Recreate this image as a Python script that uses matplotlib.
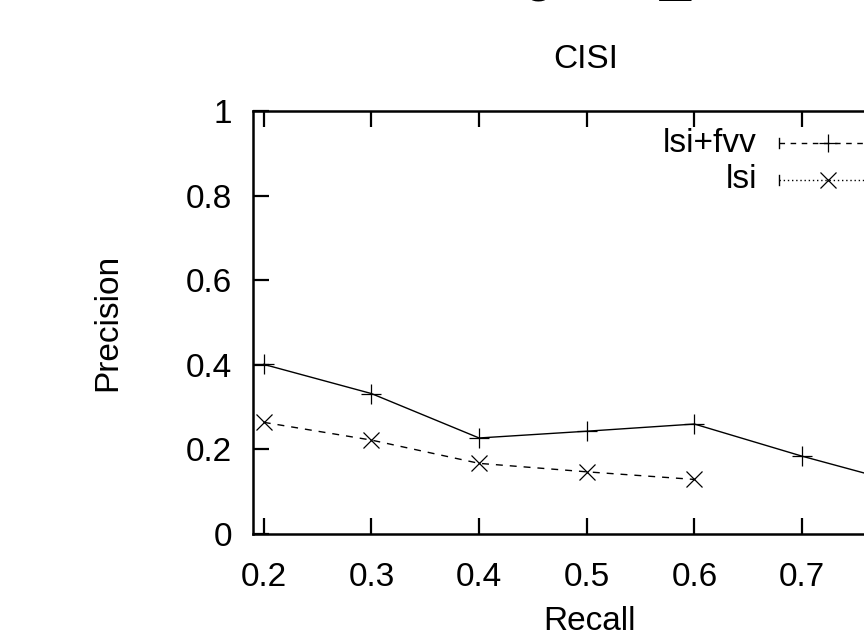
import matplotlib
matplotlib.use("Agg")
import matplotlib.pyplot as plt
from matplotlib.lines import Line2D

plt.rcParams['font.family'] = ['Liberation Sans', 'DejaVu Sans']

recall_fvv = [0.2, 0.3, 0.4, 0.5, 0.6, 0.7, 0.8]
prec_fvv = [0.401, 0.332, 0.227, 0.243, 0.260, 0.184, 0.115]
recall_lsi = [0.2, 0.3, 0.4, 0.5, 0.6]
prec_lsi = [0.264, 0.222, 0.167, 0.147, 0.129]
xticks = [0.2, 0.3, 0.4, 0.5, 0.6, 0.7, 0.8, 0.9, 1.0]
yticks = [0, 0.2, 0.4, 0.6, 0.8, 1]
ytick_labels = ['0', '0.2', '0.4', '0.6', '0.8', '1']

W, H = 864, 636
FS = 24
fig = plt.figure(figsize=(W / 100, H / 100), dpi=100)

def fx(x):
    return x / W

def fy(y):
    return 1 - y / H

left, top, bottom = 253, 111, 534
ax = fig.add_axes([fx(left), fy(bottom), 872 / W, (bottom - top) / H])
ax.set_xlim(0.19, 1.0)
ax.set_ylim(0, 1)

ax.plot(recall_fvv, prec_fvv, color='black', lw=1.0, marker='+', ms=14, mew=0.9,
        clip_on=False)
ax.plot(recall_lsi, prec_lsi, color='black', lw=1.0, ls=(0, (5, 5)), marker='x',
        ms=12, mew=0.9, clip_on=False)

ax.set_xticks(xticks)
ax.set_xticklabels([f'{v:.1f}' for v in xticks])
ax.set_yticks(yticks)
ax.set_yticklabels(ytick_labels)
ax.tick_params(direction='in', length=11.5, width=1.6, top=True, right=True,
               labelsize=FS, colors='black')
ax.tick_params(axis='y', pad=15)
ax.tick_params(axis='x', pad=20)
for s in ax.spines.values():
    s.set_linewidth(1.8)

fig.text(fx(586), fy(60), 'CISI', ha='center', va='center', fontsize=FS)
fig.text(fx(589), fy(621), 'Recall', ha='center', va='center', fontsize=FS)
fig.text(fx(108), fy(322), 'Precision', ha='center', va='center', fontsize=FS,
         rotation=90)

# legend (manual, gnuplot style)
rows = [('lsi+fvv', 143, (0, (4, 4)), '+', 13), ('lsi', 180, (0, (1, 2)), 'x', 11)]
for label, yy, ls, mk, ms in rows:
    fig.text(fx(757), fy(yy), label, ha='right', va='center', fontsize=FS)
    fig.add_artist(Line2D([fx(779), fx(880)], [fy(yy), fy(yy)], color='black',
                          lw=1.0, ls=ls))
    fig.add_artist(Line2D([fx(779), fx(779)], [fy(yy - 5), fy(yy + 5)],
                          color='black', lw=1.0))
    fig.add_artist(Line2D([fx(828)], [fy(yy)], color='black', marker=mk, ms=ms,
                          mew=0.9, ls='none'))

# partially visible large text at top edge
fig.text(fx(538), fy(1), 'o', ha='center', va='baseline', fontsize=40)
fig.text(fx(675), fy(-10), '_', ha='center', va='baseline', fontsize=40)

fig.savefig('out.png', dpi=100)
